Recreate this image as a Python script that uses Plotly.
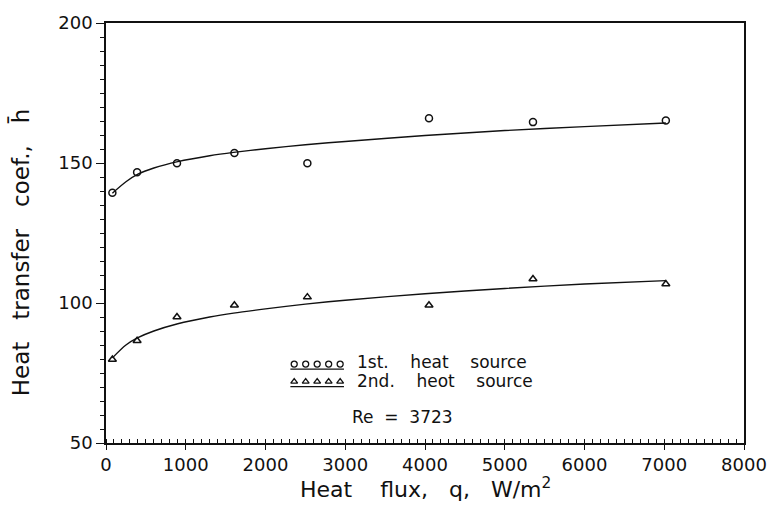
import plotly.graph_objects as go

# ---- data ----
q_points = [80, 390, 890, 1610, 2525, 4050, 5354, 7020]
h_first = [139.4, 146.7, 149.9, 153.6, 149.9, 166.0, 164.6, 165.2]
h_second = [79.8, 86.5, 95.0, 99.2, 102.1, 99.2, 108.6, 106.8]

q_fit = [80, 250, 400, 600, 900, 1300, 1600, 2000, 2500, 3000, 4000, 5000, 6000, 7020]
h_fit_first = [139.2, 143.3, 146.0, 148.2, 150.5, 152.6, 153.8, 155.1, 156.5, 157.7, 159.8, 161.6, 163.0, 164.3]
h_fit_second = [80.4, 85.0, 87.6, 90.0, 92.6, 95.0, 96.4, 97.9, 99.6, 101.0, 103.3, 105.2, 106.8, 108.0]

x_ticks = [0, 1000, 2000, 3000, 4000, 5000, 6000, 7000, 8000]
y_ticks = [50, 100, 150, 200]

legend_labels = ["1st.    heat    source", "2nd.    heot    source"]
re_label = "Re  =  3723"

FONT = "DejaVu Sans"
INK = "#111111"

fig = go.Figure()

fig.add_trace(go.Scatter(x=q_fit, y=h_fit_first, mode="lines",
                         line=dict(color=INK, width=1.4, shape="spline", smoothing=0.8),
                         showlegend=False, hoverinfo="skip"))
fig.add_trace(go.Scatter(x=q_fit, y=h_fit_second, mode="lines",
                         line=dict(color=INK, width=1.4, shape="spline", smoothing=0.8),
                         showlegend=False, hoverinfo="skip"))
fig.add_trace(go.Scatter(x=q_points, y=h_first, mode="markers",
                         marker=dict(symbol="circle-open", size=7, color=INK, line=dict(width=1.5)),
                         showlegend=False))
fig.add_trace(go.Scatter(x=q_points, y=h_second, mode="markers",
                         marker=dict(symbol="triangle-up-open", size=7, color=INK, line=dict(width=1.5)),
                         showlegend=False))

# legend glyphs drawn on an invisible overlay axis (0..1 across the plot area)
leg_x = [0.295, 0.313, 0.331, 0.349, 0.367]
fig.add_trace(go.Scatter(x=leg_x, y=[0.188] * 5, xaxis="x2", yaxis="y2", mode="markers",
                         marker=dict(symbol="circle-open", size=6, color=INK, line=dict(width=1.3)),
                         showlegend=False, hoverinfo="skip"))
fig.add_trace(go.Scatter(x=leg_x, y=[0.146] * 5, xaxis="x2", yaxis="y2", mode="markers",
                         marker=dict(symbol="triangle-up-open", size=6, color=INK, line=dict(width=1.3)),
                         showlegend=False, hoverinfo="skip"))
fig.add_trace(go.Scatter(x=[0.289, 0.373], y=[0.176, 0.176], xaxis="x2", yaxis="y2", mode="lines",
                         line=dict(color=INK, width=1.2), showlegend=False, hoverinfo="skip"))
fig.add_trace(go.Scatter(x=[0.289, 0.373], y=[0.134, 0.134], xaxis="x2", yaxis="y2", mode="lines",
                         line=dict(color=INK, width=1.2), showlegend=False, hoverinfo="skip"))

fig.add_annotation(xref="x2", yref="y2", x=0.390, y=0.192, text=legend_labels[0], showarrow=False,
                   xanchor="left", yanchor="middle", font=dict(family=FONT, size=17, color=INK))
fig.add_annotation(xref="x2", yref="y2", x=0.390, y=0.148, text=legend_labels[1], showarrow=False,
                   xanchor="left", yanchor="middle", font=dict(family=FONT, size=17, color=INK))
fig.add_annotation(xref="x2", yref="y2", x=0.465, y=0.062, text=re_label, showarrow=False,
                   xanchor="center", yanchor="middle", font=dict(family=FONT, size=17, color=INK))

# axis titles
fig.add_annotation(xref="paper", yref="paper", x=0.5, y=-0.108, text="Heat    flux,   q,   W/m<sup>2</sup>",
                   showarrow=False, xanchor="center", yanchor="middle",
                   font=dict(family=FONT, size=22, color=INK))
fig.add_annotation(xref="paper", yref="paper", x=-0.134, y=0.453, text="Heat   transfer   coef.,   h\u0304",
                   showarrow=False, textangle=-90, xanchor="center", yanchor="middle",
                   font=dict(family=FONT, size=23, color=INK))

fig.update_layout(
    width=779, height=508,
    margin=dict(l=106, r=29, t=17, b=65),
    paper_bgcolor="white", plot_bgcolor="white",
    font=dict(family=FONT, color=INK),
    xaxis=dict(range=[0, 8000], tickvals=x_ticks, ticktext=[str(v) for v in x_ticks],
               showgrid=False, zeroline=False, showline=True, linecolor=INK, linewidth=1.5, mirror=True,
               ticks="outside", ticklen=5, tickwidth=1.2, tickcolor=INK,
               minor=dict(dtick=100, ticks="inside", ticklen=4, tickwidth=1, tickcolor=INK, showgrid=False),
               tickfont=dict(family=FONT, size=18, color=INK)),
    yaxis=dict(range=[50, 200], tickvals=y_ticks, ticktext=[str(v) for v in y_ticks],
               showgrid=False, zeroline=False, showline=True, linecolor=INK, linewidth=1.5, mirror=True,
               ticks="outside", ticklen=8, tickwidth=1.2, tickcolor=INK,
               minor=dict(dtick=5, ticks="outside", ticklen=4, tickwidth=1, tickcolor=INK, showgrid=False),
               tickfont=dict(family=FONT, size=18, color=INK)),
    xaxis2=dict(range=[0, 1], overlaying="x", visible=False, fixedrange=True),
    yaxis2=dict(range=[0, 1], overlaying="y", visible=False, fixedrange=True),
    showlegend=False,
)

fig.write_html("out.html")
